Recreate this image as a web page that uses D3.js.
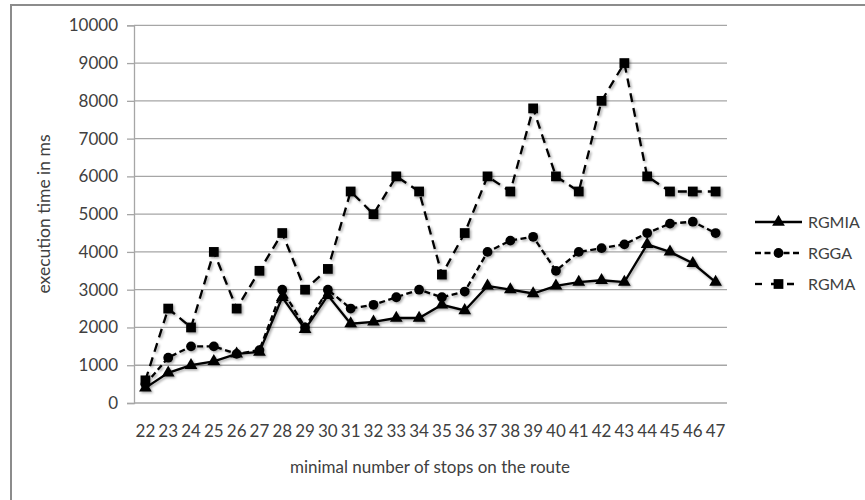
<!DOCTYPE html>
<html><head><meta charset="utf-8">
<script src="https://cdn.jsdelivr.net/npm/d3@7"></script>
<style>body{margin:0;background:#fff}svg{display:block}text{font-family:Lato,"Open Sans",sans-serif;fill:#404040}</style>
</head><body><svg id="c" width="865" height="500"></svg>
<script>
const categories = [22,23,24,25,26,27,28,29,30,31,32,33,34,35,36,37,38,39,40,41,42,43,44,45,46,47];
const rgmia = [400,800,1000,1100,1300,1350,2800,1950,2850,2100,2150,2250,2250,2600,2450,3100,3000,2900,3100,3200,3250,3200,4200,4000,3700,3200];
const rgga  = [500,1200,1500,1500,1300,1400,3000,2000,3000,2500,2600,2800,3000,2800,2950,4000,4300,4400,3500,4000,4100,4200,4500,4750,4800,4500];
const rgma  = [600,2500,2000,4000,2500,3500,4500,3000,3550,5600,5000,6000,5600,3400,4500,6000,5600,7800,6000,5600,8000,9000,6000,5600,5600,5600];
const yTicks = [0,1000,2000,3000,4000,5000,6000,7000,8000,9000,10000];
const seriesNames = ["RGMIA","RGGA","RGMA"];
const xTitle = "minimal number of stops on the route";
const yTitle = "execution time in ms";

const svg = d3.select("#c");
const defs = svg.append("defs");
const f = defs.append("filter").attr("id","sh").attr("x","-50%").attr("y","-50%").attr("width","200%").attr("height","200%");
f.append("feDropShadow").attr("dx",1.5).attr("dy",1.5).attr("stdDeviation",1.2).attr("flood-color","#000").attr("flood-opacity",0.35);

// outer frame
svg.append("rect").attr("x",11).attr("y",5).attr("width",900).attr("height",520)
  .attr("fill","none").attr("stroke","#8c8c8c").attr("stroke-width",2);

const L=134, R=727, T=25.3, B=403;
const x = d3.scaleBand().domain(categories).range([L,R]);
const y = d3.scaleLinear().domain([0,10000]).range([B,T]);

// gridlines
svg.append("g").selectAll("line").data(yTicks).join("line")
  .attr("x1",L).attr("x2",R).attr("y1",d=>y(d)).attr("y2",d=>y(d))
  .attr("stroke","#a6a6a6").attr("stroke-width",1.3);

// y axis
const ya = svg.append("g").attr("transform",`translate(${L},0)`)
  .call(d3.axisLeft(y).tickValues(yTicks).tickSize(7).tickPadding(9).tickFormat(d3.format("d")));
ya.select(".domain").attr("stroke","#a6a6a6").attr("stroke-width",1.3);
ya.selectAll(".tick line").attr("stroke","#a6a6a6").attr("stroke-width",1.3);
ya.selectAll("text").style("font-size","17px").attr("fill","#404040");

// x axis
const xa = svg.append("g").attr("transform",`translate(0,${B})`)
  .call(d3.axisBottom(x).tickSize(0).tickPadding(22));
xa.select(".domain").remove();
xa.selectAll("text").style("font-size","17px").attr("fill","#404040");

svg.append("text").attr("x",430).attr("y",473).attr("text-anchor","middle").style("font-size","17px").text(xTitle);
svg.append("text").attr("transform",`translate(50,214) rotate(-90)`).attr("text-anchor","middle").style("font-size","17.5px").text(yTitle);

const cx = d => x(d)+x.bandwidth()/2;
const line = d3.line().x((d,i)=>cx(categories[i])).y(d=>y(d));
const styles = [
  {data:rgmia, dash:null, sym:d3.symbolTriangle, size:70},
  {data:rgga, dash:"6,3.5", sym:d3.symbolCircle, size:75},
  {data:rgma, dash:"9,6", sym:d3.symbolSquare, size:95}
];
const g = svg.append("g").attr("filter","url(#sh)");
styles.slice().reverse().forEach(s=>{
  g.append("path").datum(s.data).attr("d",line).attr("fill","none").attr("stroke","#000")
    .attr("stroke-width",2.3).attr("stroke-dasharray",s.dash);
  g.append("g").selectAll("path").data(s.data).join("path")
    .attr("transform",(d,i)=>`translate(${cx(categories[i])},${y(d)})`)
    .attr("d",d3.symbol().type(s.sym).size(s.size)).attr("fill","#000");
});

// legend
const lg = svg.append("g");
const ly = [222,253,284];
const legDash = [null,"6,3.5","7,9"];
styles.forEach((s,i)=>{
  lg.append("line").attr("x1",755).attr("x2",802).attr("y1",ly[i]).attr("y2",ly[i])
    .attr("stroke","#000").attr("stroke-width",2.3).attr("stroke-dasharray",legDash[i]);
  lg.append("path").attr("transform",`translate(778.5,${ly[i]})`).attr("d",d3.symbol().type(s.sym).size(s.size)).attr("fill","#000");
  lg.append("text").attr("x",808).attr("y",ly[i]).attr("dy","0.35em").style("font-size","16px").text(seriesNames[i]);
});
</script></body></html>
